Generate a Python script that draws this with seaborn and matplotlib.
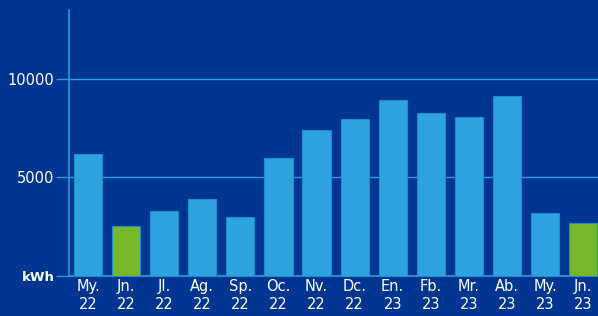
import pandas as pd
import seaborn as sns
import matplotlib.pyplot as plt

months = ["My.\n22", "Jn.\n22", "Jl.\n22", "Ag.\n22", "Sp.\n22", "Oc.\n22", "Nv.\n22",
          "Dc.\n22", "En.\n23", "Fb.\n23", "Mr.\n23", "Ab.\n23", "My.\n23", "Jn.\n23"]
kwh = [6170, 2520, 3280, 3900, 2980, 5990, 7390, 7980, 8930, 8280, 8080, 9110, 3180, 2700]
highlight = ["Jn.\n22", "Jn.\n23"]
yticks = [0, 5000, 10000]
ytick_labels = ["kWh", "5000", "10000"]

bg = "#003591"
bar_blue = "#2ca3de"
bar_green = "#76b82a"
line_col = "#2a9bd9"

df = pd.DataFrame({"month": months, "kwh": kwh})
palette = {m: (bar_green if m in highlight else bar_blue) for m in months}

fig = plt.figure(figsize=(5.98, 3.16), dpi=100, facecolor=bg)
ax = fig.add_axes([69 / 598, 40 / 316, 529 / 598, 266 / 316])
ax.set_facecolor(bg)

sns.barplot(data=df, x="month", y="kwh", hue="month", palette=palette, legend=False,
            saturation=1, width=0.74, edgecolor="#1f8ccc", linewidth=0.8, ax=ax, zorder=3)

ax.set_ylim(0, 13500)
ax.set_xlim(-0.5, 13.39)
ax.set_yticks(yticks)
ax.set_yticklabels(ytick_labels)
ax.yaxis.grid(True, color=line_col, linewidth=1.0, zorder=1)
ax.set_axisbelow(True)

for side in ["top", "right"]:
    ax.spines[side].set_visible(False)
for side in ["left", "bottom"]:
    ax.spines[side].set_color(line_col)
    ax.spines[side].set_linewidth(1.2)

ax.tick_params(axis="y", length=9.5, width=1.0, color=line_col, labelcolor="white",
               labelsize=10.5, pad=1)
ax.tick_params(axis="x", length=0, labelcolor="white", labelsize=10.5, pad=2)
ax.get_yticklabels()[0].set_fontweight("bold")
ax.get_yticklabels()[0].set_fontsize(9.5)
for lbl in ax.get_xticklabels():
    lbl.set_linespacing(1.25)

ax.set_xlabel("")
ax.set_ylabel("")

fig.savefig("out.png", dpi=100, facecolor=bg)
